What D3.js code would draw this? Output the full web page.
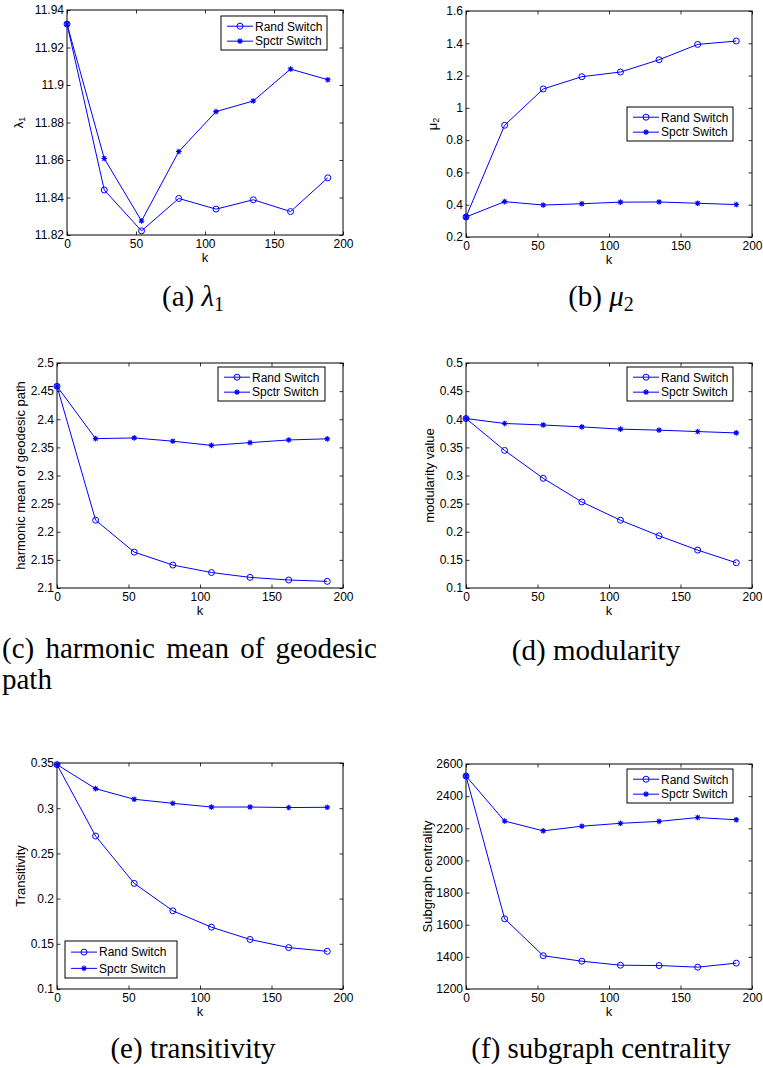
<!DOCTYPE html>
<meta charset="utf-8">
<style>
body { margin: 0; background: #fff; }
svg { display: block; }
.tick text { font-family: "Liberation Sans", Arial, sans-serif; font-size: 12px; fill: #000; }
.tick line { stroke: #000; }
.lbl { font-family: "Liberation Sans", Arial, sans-serif; font-size: 13px; fill: #000; }
.leg { font-family: "Liberation Sans", Arial, sans-serif; font-size: 12px; fill: #000; }
.cap { font-family: "Liberation Serif", "DejaVu Serif", serif; font-size: 29px; fill: #000; }
</style>
<svg width="763" height="1068"></svg>
<script src="https://d3js.org/d3.v7.min.js"></script>
<script>

// ---- data ----
var kValues = [0, 27, 54, 81, 108, 135, 162, 189];
var seriesNames = ["Rand Switch", "Spctr Switch"];
var xTicks = [0, 50, 100, 150, 200];

var lambdaRand  = [11.9325, 11.844, 11.8222, 11.8395, 11.8338, 11.8388, 11.8325, 11.8505];
var lambdaSpctr = [11.9325, 11.8608, 11.8275, 11.8645, 11.8858, 11.8915, 11.9085, 11.9028];
var lambdaTicks = [11.82, 11.84, 11.86, 11.88, 11.9, 11.92, 11.94];

var mu2Rand  = [0.324, 0.892, 1.117, 1.193, 1.222, 1.298, 1.393, 1.414];
var mu2Spctr = [0.324, 0.419, 0.398, 0.406, 0.416, 0.417, 0.409, 0.401];
var mu2Ticks = [0.2, 0.4, 0.6, 0.8, 1, 1.2, 1.4, 1.6];

var geoRand  = [2.4586, 2.2205, 2.1638, 2.1408, 2.1275, 2.1189, 2.1142, 2.1118];
var geoSpctr = [2.4586, 2.3655, 2.3668, 2.361, 2.3535, 2.3585, 2.3632, 2.3652];
var geoTicks = [2.1, 2.15, 2.2, 2.25, 2.3, 2.35, 2.4, 2.45, 2.5];

var modRand  = [0.4013, 0.3446, 0.295, 0.253, 0.2205, 0.1928, 0.1674, 0.1449];
var modSpctr = [0.4013, 0.3925, 0.3898, 0.3864, 0.3824, 0.3806, 0.3781, 0.3757];
var modTicks = [0.1, 0.15, 0.2, 0.25, 0.3, 0.35, 0.4, 0.45, 0.5];

var transRand  = [0.3482, 0.2692, 0.2168, 0.1865, 0.1684, 0.1548, 0.1458, 0.1417];
var transSpctr = [0.3482, 0.3216, 0.3099, 0.3054, 0.3013, 0.3013, 0.3007, 0.301];
var transTicks = [0.1, 0.15, 0.2, 0.25, 0.3, 0.35];

var subRand  = [2525, 1637, 1407, 1373, 1348, 1346, 1336, 1361];
var subSpctr = [2525, 2245, 2184, 2213, 2231, 2243, 2267, 2253];
var subTicks = [1200, 1400, 1600, 1800, 2000, 2200, 2400, 2600];

// ---- layout ----
var panels = [
  {rand: lambdaRand, spctr: lambdaSpctr, ticks: lambdaTicks, ylab: ["λ", "1"], cap: ["(a) ", "λ", "1"],
   box: [67, 10, 343, 235], ylx: 18, leg: [221, 16, 106, 34], capx: 193, capy: 306},
  {rand: mu2Rand, spctr: mu2Spctr, ticks: mu2Ticks, ylab: ["μ", "2"], cap: ["(b) ", "μ", "2"],
   box: [466, 11, 752, 237], ylx: 432, leg: [627, 107, 106, 34], capx: 601, capy: 306},
  {rand: geoRand, spctr: geoSpctr, ticks: geoTicks, ylab: ["harmonic mean of geodesic path"],
   cap: ["(c) harmonic mean of geodesic", "path"],
   box: [57, 363, 343, 588], ylx: 20, leg: [218, 367, 107, 34], capx: 2, capy: 658},
  {rand: modRand, spctr: modSpctr, ticks: modTicks, ylab: ["modularity value"], cap: ["(d) modularity"],
   box: [466, 363, 752, 588], ylx: 429, leg: [627, 367, 106, 34], capx: 596, capy: 660},
  {rand: transRand, spctr: transSpctr, ticks: transTicks, ylab: ["Transitivity"], cap: ["(e) transitivity"],
   box: [57, 763, 343, 989], ylx: 20, leg: [65, 941, 112, 37], capx: 193, capy: 1058},
  {rand: subRand, spctr: subSpctr, ticks: subTicks, ylab: ["Subgraph centrality"], cap: ["(f) subgraph centrality"],
   box: [466, 764, 752, 989], ylx: 427, leg: [627, 769, 106, 34], capx: 601, capy: 1058}
];

var blue = "#0000ff";
var svg = d3.select("svg");
svg.append("rect").attr("width", 763).attr("height", 1068).attr("fill", "#fff");

function starPath(s) {
  var d = s * 0.72;
  return "M" + (-s) + ",0L" + s + ",0M0," + (-s) + "L0," + s +
         "M" + (-d) + "," + (-d) + "L" + d + "," + d + "M" + (-d) + "," + d + "L" + d + "," + (-d);
}

function drawMarker(g, kind, x, y) {
  if (kind == 0) {
    g.append("circle").attr("cx", x).attr("cy", y).attr("r", 3)
      .attr("fill", "none").attr("stroke", blue).attr("stroke-width", 1);
  } else {
    g.append("path").attr("d", starPath(2.8)).attr("transform", "translate(" + x + "," + y + ")")
      .attr("fill", "none").attr("stroke", blue).attr("stroke-width", 1.1);
  }
}

panels.forEach(function(p) {
  var x0 = p.box[0], y0 = p.box[1], x1 = p.box[2], y1 = p.box[3];
  var x = d3.scaleLinear().domain([0, 200]).range([x0, x1]);
  var y = d3.scaleLinear().domain([p.ticks[0], p.ticks[p.ticks.length - 1]]).range([y1, y0]);
  var g = svg.append("g");
  var fmt = d3.format("~g");

  // axes, ticks inward on all four sides
  g.append("g").attr("transform", "translate(0," + y1 + ")")
    .call(d3.axisBottom(x).tickValues(xTicks).tickFormat(fmt).tickSizeInner(-3.5).tickSizeOuter(0).tickPadding(4));
  g.append("g").attr("transform", "translate(0," + y0 + ")")
    .call(d3.axisTop(x).tickValues(xTicks).tickFormat("").tickSizeInner(-3.5).tickSizeOuter(0));
  g.append("g").attr("transform", "translate(" + x0 + ",0)")
    .call(d3.axisLeft(y).tickValues(p.ticks).tickFormat(fmt).tickSizeInner(-3.5).tickSizeOuter(0).tickPadding(3));
  g.append("g").attr("transform", "translate(" + x1 + ",0)")
    .call(d3.axisRight(y).tickValues(p.ticks).tickFormat("").tickSizeInner(-3.5).tickSizeOuter(0));
  g.selectAll(".domain").remove();
  g.selectAll(".tick line").attr("stroke-width", 0.8);

  g.append("rect").attr("x", x0).attr("y", y0).attr("width", x1 - x0).attr("height", y1 - y0)
    .attr("fill", "none").attr("stroke", "#000").attr("stroke-width", 1);

  // series
  var line = d3.line().x(function(d, i) { return x(kValues[i]); }).y(function(d) { return y(d); });
  [p.rand, p.spctr].forEach(function(vals, s) {
    g.append("path").datum(vals).attr("d", line)
      .attr("fill", "none").attr("stroke", blue).attr("stroke-width", 1);
    vals.forEach(function(v, i) { drawMarker(g, s, x(kValues[i]), y(v)); });
  });

  // axis labels
  g.append("text").attr("class", "lbl").attr("x", (x0 + x1) / 2).attr("y", y1 + 27)
    .attr("text-anchor", "middle").text("k");
  var yl = g.append("text").attr("class", "lbl")
    .attr("transform", "translate(" + p.ylx + "," + (y0 + y1) / 2 + ") rotate(-90)")
    .attr("text-anchor", "middle").attr("dy", "0.35em");
  yl.append("tspan").text(p.ylab[0]);
  if (p.ylab.length > 1) {
    yl.append("tspan").attr("dy", "0.3em").attr("font-size", "9px").text(p.ylab[1]);
  }

  // legend
  var L = p.leg;
  var lg = g.append("g").attr("transform", "translate(" + L[0] + "," + L[1] + ")");
  lg.append("rect").attr("width", L[2]).attr("height", L[3])
    .attr("fill", "#fff").attr("stroke", "#000").attr("stroke-width", 1);
  seriesNames.forEach(function(name, s) {
    var ry = L[3] * (s == 0 ? 0.3 : 0.74);
    lg.append("line").attr("x1", 6).attr("x2", 32).attr("y1", ry).attr("y2", ry)
      .attr("stroke", blue).attr("stroke-width", 1);
    drawMarker(lg, s, 19, ry);
    lg.append("text").attr("class", "leg").attr("x", 34).attr("y", ry).attr("dy", "0.36em").text(name);
  });

  // caption
  if (p.cap.length == 3) {
    var ct = svg.append("text").attr("class", "cap").attr("x", p.capx).attr("y", p.capy)
      .attr("text-anchor", "middle");
    ct.append("tspan").text(p.cap[0]);
    ct.append("tspan").attr("font-style", "italic").text(p.cap[1]);
    ct.append("tspan").attr("dy", 5).attr("font-size", "20px").text(p.cap[2]);
  } else if (p.cap.length == 2) {
    // two-line justified caption
    var c1 = svg.append("text").attr("class", "cap").attr("font-size", "28px")
      .attr("x", p.capx).attr("y", p.capy).text(p.cap[0]);
    var w = c1.node().getComputedTextLength();
    var gaps = p.cap[0].split(" ").length - 1;
    c1.attr("word-spacing", (375 - w) / gaps);
    svg.append("text").attr("class", "cap").attr("font-size", "28px")
      .attr("x", p.capx).attr("y", p.capy + 31).text(p.cap[1]);
  } else {
    svg.append("text").attr("class", "cap").attr("x", p.capx).attr("y", p.capy)
      .attr("text-anchor", "middle").text(p.cap[0]);
  }
});

</script>
